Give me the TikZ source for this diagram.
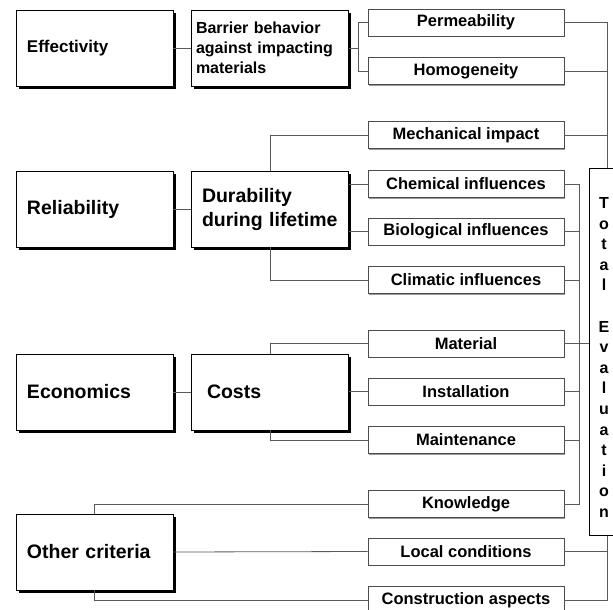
\documentclass[tikz,border=0pt]{standalone}
\usepackage{fontspec}
\setmainfont{Liberation Sans}
\usetikzlibrary{shadows}

\tikzset{
  crit/.style={draw=black, line width=0.9pt, fill=white,
    minimum width=157pt, minimum height=76pt, text width=135pt,
    inner xsep=11pt, align=left,
    font=\bfseries\fontsize{19.5}{24}\selectfont,
    general shadow={fill=black, shadow xshift=2.6pt, shadow yshift=-2.6pt}},
  leaf/.style={draw=black!70, line width=0.8pt, fill=white,
    minimum width=196pt, minimum height=27pt, inner sep=0pt,
    font=\bfseries\fontsize{16.5}{19}\selectfont,
    general shadow={fill=black!40, shadow xshift=1.3pt, shadow yshift=-1.3pt}},
  link/.style={draw=black!65, line width=0.8pt}
}

\begin{document}
\begin{tikzpicture}[x=1pt, y=-1pt]
  \useasboundingbox (0,0) rectangle (613,610);
  \def\xcrit{94.5}
  \def\xsub{270}
  \def\xleaf{466}
  % main criteria
  \node[crit, font=\bfseries\fontsize{17}{20}\selectfont] (eff) at (\xcrit,48) {Effectivity\\[6pt]};
  \node[crit] (rel) at (\xcrit,209) {Reliability\\[4pt]};
  \node[crit] (eco) at (\xcrit,392) {Economics};
  \node[crit] (oth) at (\xcrit,552) {Other criteria};
  % sub criteria
  \node[crit, text width=148pt, inner xsep=4pt,
        font=\bfseries\fontsize{16}{20}\selectfont] (bar) at (\xsub,48)
        {Barrier behavior\\against impacting\\materials};
  \node[crit, text width=136pt, inner xsep=10pt] (dur) at (\xsub,209) {Durability\\during lifetime};
  \node[crit, text width=126pt, inner xsep=15pt] (cost) at (\xsub,392) {Costs\\[4pt]};
  % single aspects
  \foreach \nm/\yy/\txt in {perm/22.5/Permeability, homo/71/Homogeneity,
      mech/135/Mechanical impact, chem/184/Chemical influences,
      bio/231.5/Biological influences, clim/280/Climatic influences,
      mat/343.5/Material, inst/391.5/Installation, maint/440/Maintenance,
      know/504/Knowledge, loc/551.5/Local conditions,
      cons/600/Construction aspects} {
    \node[leaf] (\nm) at (\xleaf,\yy) {\txt};
  }
  % total evaluation
  \node[draw, line width=1pt, fill=white, minimum width=36pt, minimum height=367pt,
        inner sep=0pt] (tot) at (607,351.5) {};
  \node[align=center, inner sep=0pt, font=\bfseries\fontsize{16}{20.6}\selectfont]
        (totlbl) at ([xshift=-3pt, yshift=-6pt]tot.center)
        {T\\o\\t\\a\\l\\[20.6pt]E\\v\\a\\l\\u\\a\\t\\i\\o\\n};

  % left links
  \draw[link] (eff.east) -- (bar.west);
  \draw[link] (rel.east) -- (dur.west);
  \draw[link] (eco.east) -- (cost.west);
  \path (bar.east) ++(9,0) coordinate (jb);
  \draw[link] (bar.east) -- (jb);
  \draw[link] (perm.west) -| (jb) |- (homo.west);
  \draw[link] (dur.north) |- (mech.west);
  \draw[link] (dur.south) |- (clim.west);
  \draw[link] (dur.east |- chem.west) -- (chem.west);
  \draw[link] (dur.east |- bio.west) -- (bio.west);
  \draw[link] (cost.north) |- (mat.west);
  \draw[link] (cost.south) |- (maint.west);
  \draw[link] (cost.east |- inst.west) -- (inst.west);
  \draw[link] (oth.north) |- (know.west);
  \draw[link] (oth.east) -- (loc.west);
  \draw[link] (oth.south) |- (cons.west);

  % right links
  \draw[link] (perm.east) -| (tot.north);
  \draw[link] (homo.east) -| (tot.north);
  \draw[link] (mech.east) -| (tot.north);
  \path (chem.east) ++(15,0) coordinate (bus);
  \draw[link] (chem.east) -- (bus) |- (know.east);
  \foreach \nm in {bio,clim,inst,maint}
    \draw[link] (\nm.east) -- +(15,0);
  \draw[link] (mat.east) -- (mat.east -| tot.west);
  \draw[link] (loc.east) -| (tot.south);
  \draw[link] (cons.east) -| (tot.south);
\end{tikzpicture}
\end{document}
